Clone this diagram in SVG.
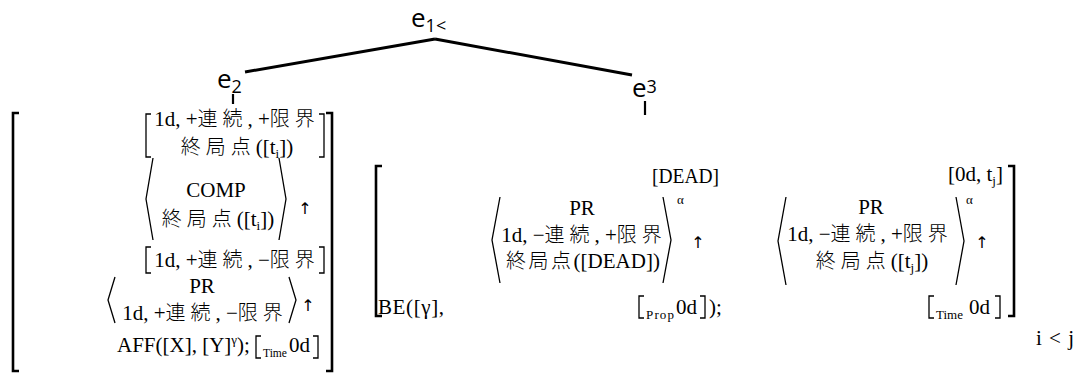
<svg xmlns="http://www.w3.org/2000/svg" width="1083" height="373" viewBox="0 0 1083 373">
<style>
  text { fill: #000; }
  .m { font-family: "Liberation Serif", "Noto Sans CJK JP", serif; font-size: 21px; }
  .j { font-family: "Noto Sans CJK JP", "Liberation Serif", sans-serif; font-size: 20px; font-weight: 300; letter-spacing: 5px; }
  .jt { letter-spacing: 2.5px; }
  .s { font-size: 13px; }
  .e { font-family: "Open Sans", "DejaVu Sans", sans-serif; font-size: 26px; }
  .es { font-size: 18px; }
  .ar { font-family: "DejaVu Sans", sans-serif; font-size: 16px; text-anchor: middle; }
  .c { text-anchor: middle; }
  .br { fill: none; stroke: #000; stroke-width: 1.3; }
  .ob { fill: none; stroke: #000; stroke-width: 2.6; }
  .edge { fill: none; stroke: #000; stroke-width: 3; }
  .tick { stroke: #000; stroke-width: 2.2; }
</style>

<!-- tree edges and attachment ticks -->
<g id="connectors">
  <line class="edge" x1="435" y1="39" x2="245" y2="72"/>
  <line class="edge" x1="435" y1="39" x2="632" y2="75"/>
  <line class="tick" x1="233" y1="94" x2="233" y2="104"/>
  <line class="tick" x1="645" y1="101" x2="645" y2="115"/>
</g>

<g id="node-e1">
  <text class="e" x="411" y="27">e<tspan class="es" dy="5">1&lt;</tspan></text>
</g>
<g id="node-e2">
  <text class="e" x="217" y="88">e<tspan class="es" dy="5">2</tspan></text>
</g>
<g id="node-e3">
  <text class="e" x="632" y="97">e<tspan class="es" dy="-4">3</tspan></text>
</g>

<!-- feature structure under e2 -->
<g id="avm-e2">
  <path class="ob" d="M19,113 H13 V371 H19"/>
  <path class="ob" d="M326,113 H332 V371 H326"/>

  <path class="br" d="M151,114 H146 V157 H151 M319,114 H324 V157 H319"/>
  <text class="m c" x="237" y="126">1d, +<tspan class="j">連続</tspan>, +<tspan class="j">限界</tspan></text>
  <text class="m c" x="237" y="154"><tspan class="j">終局点</tspan>([t<tspan class="s" dy="4">i</tspan><tspan dy="-4">])</tspan></text>

  <path class="br" d="M153,158 L146,199 L153,240 M279,158 L286,199 L279,240"/>
  <text class="m c" x="216" y="197">COMP</text>
  <text class="m c" x="218" y="226"><tspan class="j">終局点</tspan>([t<tspan class="s" dy="4">i</tspan><tspan dy="-4">])</tspan></text>
  <text class="ar" x="305" y="214">↑</text>

  <path class="br" d="M151,247 H146 V273 H151 M319,247 H324 V273 H319"/>
  <text class="m c" x="237" y="267">1d, +<tspan class="j">連続</tspan>, −<tspan class="j">限界</tspan></text>

  <path class="br" d="M115,277 L108,300 L115,323 M289,277 L296,300 L289,323"/>
  <text class="m c" x="202" y="293">PR</text>
  <text class="m c" x="205" y="320">1d, +<tspan class="j">連続</tspan>, −<tspan class="j">限界</tspan></text>
  <text class="ar" x="308" y="311">↑</text>

  <text class="m" x="117" y="352">AFF([X], [Y]<tspan class="s" dy="-8">γ</tspan><tspan dy="8">);</tspan></text>
  <path class="br" d="M261,336 H256 V358 H261 M313,336 H318 V358 H313"/>
  <text class="m s" x="263" y="357" textLength="24" lengthAdjust="spacingAndGlyphs">Time</text>
  <text class="m" x="289" y="352">0d</text>
</g>

<!-- feature structure under e3 -->
<g id="avm-e3">
  <path class="ob" d="M382,166 H376 V316 H382"/>
  <path class="ob" d="M1008,166 H1014 V316 H1008"/>

  <text class="m" x="652" y="183" textLength="67" lengthAdjust="spacingAndGlyphs">[DEAD]</text>
  <path class="br" d="M500,197 L492,240 L500,283 M663,197 L671,240 L663,283"/>
  <text class="m c" x="582" y="215">PR</text>
  <text class="m c" x="584" y="242">1d, −<tspan class="j">連続</tspan>, +<tspan class="j">限界</tspan></text>
  <text class="m c" x="583" y="268"><tspan class="j jt">終局点</tspan>([DEAD])</text>
  <text class="m s" x="677" y="204">α</text>
  <text class="ar" x="698" y="248">↑</text>

  <text class="m" x="378" y="314" textLength="66" lengthAdjust="spacing">BE([γ],</text>
  <path class="br" d="M644,296 H639 V318 H644 M700,296 H705 V318 H700"/>
  <text class="m s" x="646" y="319" textLength="28" lengthAdjust="spacing">Prop</text>
  <text class="m" x="676" y="314">0d</text>
  <text class="m" x="709" y="314">);</text>

  <text class="m" x="948" y="181">[0d, t<tspan class="s" dy="4">j</tspan><tspan dy="-4">]</tspan></text>
  <path class="br" d="M786,197 L778,241 L786,285 M956,197 L964,241 L956,285"/>
  <text class="m c" x="871" y="214">PR</text>
  <text class="m c" x="870" y="241">1d, −<tspan class="j">連続</tspan>, +<tspan class="j">限界</tspan></text>
  <text class="m c" x="872" y="268"><tspan class="j">終局点</tspan>([t<tspan class="s" dy="4">j</tspan><tspan dy="-4">])</tspan></text>
  <text class="m s" x="966" y="204">α</text>
  <text class="ar" x="982" y="248">↑</text>

  <path class="br" d="M934,296 H929 V318 H934 M995,296 H1000 V318 H995"/>
  <text class="m s" x="936" y="319" textLength="27" lengthAdjust="spacing">Time</text>
  <text class="m" x="969" y="314">0d</text>
</g>

<g id="constraint">
  <text class="m" x="1036" y="345" textLength="38" lengthAdjust="spacing">i &lt; j</text>
</g>
</svg>
